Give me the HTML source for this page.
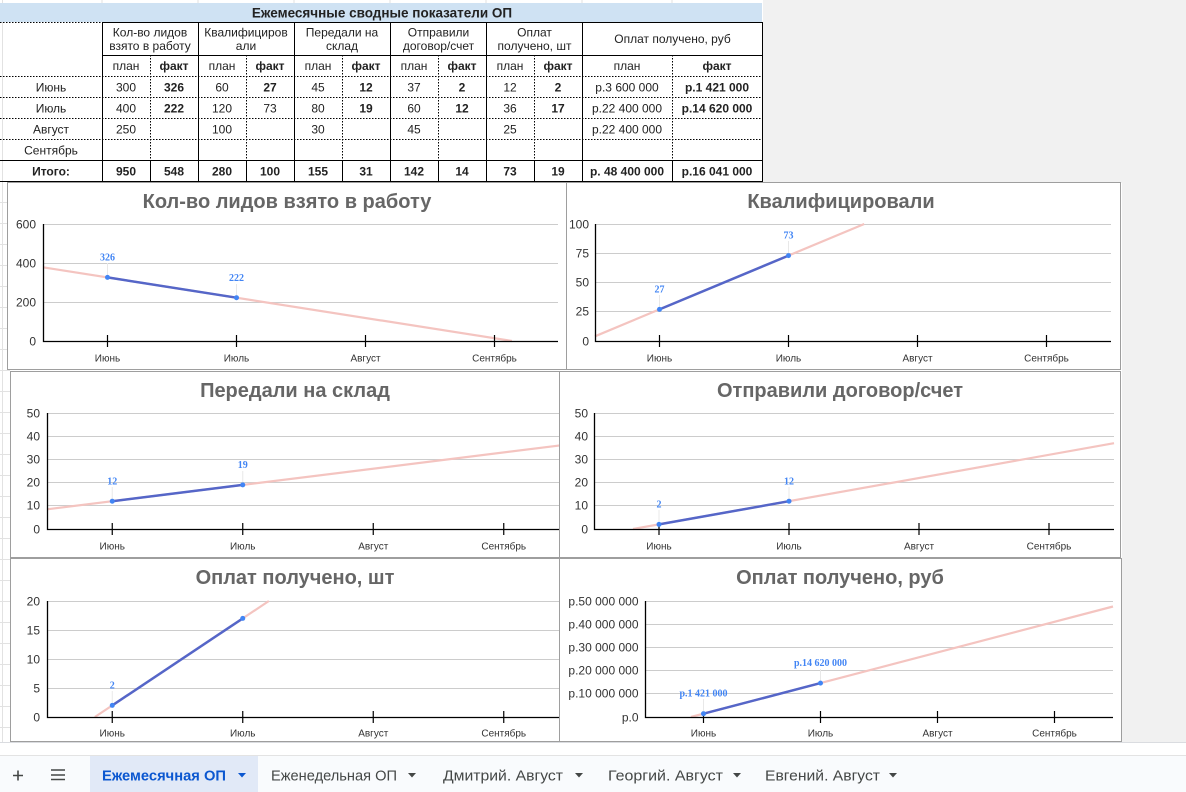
<!DOCTYPE html>
<html>
<head>
<meta charset="utf-8">
<style>
  html,body{margin:0;padding:0;background:#fff;}
  body{width:1186px;height:792px;overflow:hidden;}
  svg{display:block;}
  text{font-family:"Liberation Sans",sans-serif;}
  .t{font-size:12px;fill:#222;}
  .b{font-weight:bold;}
  .ttl{font-size:20px;font-weight:bold;fill:#666;}
  .yl{font-size:12px;fill:#333;text-anchor:end;}
  .xl{font-size:10px;fill:#333;text-anchor:middle;}
  .dl{font-family:"Liberation Serif",serif;font-size:10px;font-weight:bold;fill:#4285f4;text-anchor:middle;}
  .grid{stroke:#cccccc;stroke-width:1;}
  .ax{stroke:#000;stroke-width:1.3;fill:none;}
  .tk{stroke:#000;stroke-width:1.2;}
  .tr{stroke:#f4c4c0;stroke-width:2.2;fill:none;}
  .sr{stroke:#5566c8;stroke-width:2.5;fill:none;}
  .ld{stroke:#e8e8e8;stroke-width:1;}
  .pt{fill:#4285f4;}
  .box{fill:#fff;stroke:#9e9e9e;stroke-width:1;}
  .sol{stroke:#000;stroke-width:1;}
  .dot{stroke:#000;stroke-width:1;stroke-dasharray:1.5 1.5;}
  .tab{font-size:14.5px;fill:#444746;}
</style>
</head>
<body>
<svg width="1186" height="792" viewBox="0 0 1186 792" xmlns="http://www.w3.org/2000/svg">
  <defs>
    <clipPath id="c1"><rect x="7" y="182" width="560" height="188"/></clipPath>
    <clipPath id="c2"><rect x="566" y="182" width="555" height="188"/></clipPath>
    <clipPath id="c3"><rect x="10" y="371" width="570" height="187"/></clipPath>
    <clipPath id="c4"><rect x="559" y="371" width="562" height="187"/></clipPath>
    <clipPath id="c5"><rect x="10" y="558" width="570" height="184"/></clipPath>
    <clipPath id="c6"><rect x="559" y="558" width="563" height="184"/></clipPath>
  </defs>

  <rect x="0" y="0" width="1186" height="792" fill="#fff"/>
  <rect x="763" y="0" width="423" height="183" fill="#f1f1f1"/>
  <rect x="1122" y="183" width="64" height="559" fill="#f1f1f1"/>
  <g stroke="#e2e2e2" stroke-width="1">
    <line x1="2.5" y1="0" x2="2.5" y2="742"/>
    <line x1="0" y1="202.5" x2="10" y2="202.5"/>
    <line x1="0" y1="223.5" x2="10" y2="223.5"/>
    <line x1="0" y1="244.5" x2="10" y2="244.5"/>
    <line x1="0" y1="265.5" x2="10" y2="265.5"/>
    <line x1="0" y1="286.5" x2="10" y2="286.5"/>
    <line x1="0" y1="307.5" x2="10" y2="307.5"/>
    <line x1="0" y1="328.5" x2="10" y2="328.5"/>
    <line x1="0" y1="349.5" x2="10" y2="349.5"/>
    <line x1="0" y1="370.5" x2="10" y2="370.5"/>
    <line x1="0" y1="391.5" x2="10" y2="391.5"/>
    <line x1="0" y1="412.5" x2="10" y2="412.5"/>
    <line x1="0" y1="433.5" x2="10" y2="433.5"/>
    <line x1="0" y1="454.5" x2="10" y2="454.5"/>
    <line x1="0" y1="475.5" x2="10" y2="475.5"/>
    <line x1="0" y1="496.5" x2="10" y2="496.5"/>
    <line x1="0" y1="517.5" x2="10" y2="517.5"/>
    <line x1="0" y1="538.5" x2="10" y2="538.5"/>
    <line x1="0" y1="559.5" x2="10" y2="559.5"/>
    <line x1="0" y1="580.5" x2="10" y2="580.5"/>
    <line x1="0" y1="601.5" x2="10" y2="601.5"/>
    <line x1="0" y1="622.5" x2="10" y2="622.5"/>
    <line x1="0" y1="643.5" x2="10" y2="643.5"/>
    <line x1="0" y1="664.5" x2="10" y2="664.5"/>
    <line x1="0" y1="685.5" x2="10" y2="685.5"/>
    <line x1="0" y1="706.5" x2="10" y2="706.5"/>
    <line x1="0" y1="727.5" x2="10" y2="727.5"/>
    <line x1="102" y1="0" x2="102" y2="3"/>
    <line x1="198" y1="0" x2="198" y2="3"/>
    <line x1="294" y1="0" x2="294" y2="3"/>
    <line x1="390" y1="0" x2="390" y2="3"/>
    <line x1="486" y1="0" x2="486" y2="3"/>
    <line x1="582" y1="0" x2="582" y2="3"/>
    <line x1="672" y1="0" x2="672" y2="3"/>
  </g>

  <!-- TABLE -->
  <rect x="0" y="3" width="762" height="19" fill="#cfe2f3"/>
  <text x="382" y="17.5" text-anchor="middle" style="font-size:13.5px;font-weight:bold;fill:#222;">Ежемесячные сводные показатели ОП</text>

  <line class="dot" x1="0" y1="22.5" x2="102" y2="22.5"/>
  <line class="sol" x1="102" y1="22.5" x2="763" y2="22.5"/>
  <line class="sol" x1="102" y1="55.5" x2="763" y2="55.5"/>
  <line class="dot" x1="0" y1="76.5" x2="763" y2="76.5"/>
  <line class="dot" x1="0" y1="97.5" x2="763" y2="97.5"/>
  <line class="dot" x1="0" y1="118.5" x2="763" y2="118.5"/>
  <line class="dot" x1="0" y1="139.5" x2="763" y2="139.5"/>
  <line class="sol" x1="0" y1="160.5" x2="763" y2="160.5"/>
  <line class="sol" x1="0" y1="181.5" x2="763" y2="181.5"/>
  <line class="sol" x1="102.5" y1="22" x2="102.5" y2="182"/>
  <line class="sol" x1="198.5" y1="22" x2="198.5" y2="182"/>
  <line class="sol" x1="294.5" y1="22" x2="294.5" y2="182"/>
  <line class="sol" x1="390.5" y1="22" x2="390.5" y2="182"/>
  <line class="sol" x1="486.5" y1="22" x2="486.5" y2="182"/>
  <line class="sol" x1="582.5" y1="22" x2="582.5" y2="182"/>
  <line class="sol" x1="762.5" y1="22" x2="762.5" y2="182"/>
  <g>
    <line class="dot" x1="150.5" y1="55" x2="150.5" y2="160"/>
    <line class="dot" x1="246.5" y1="55" x2="246.5" y2="160"/>
    <line class="dot" x1="342.5" y1="55" x2="342.5" y2="160"/>
    <line class="dot" x1="438.5" y1="55" x2="438.5" y2="160"/>
    <line class="dot" x1="534.5" y1="55" x2="534.5" y2="160"/>
    <line class="dot" x1="672.5" y1="55" x2="672.5" y2="160"/>
    <line class="sol" x1="150.5" y1="160" x2="150.5" y2="182"/>
    <line class="sol" x1="246.5" y1="160" x2="246.5" y2="182"/>
    <line class="sol" x1="342.5" y1="160" x2="342.5" y2="182"/>
    <line class="sol" x1="438.5" y1="160" x2="438.5" y2="182"/>
    <line class="sol" x1="534.5" y1="160" x2="534.5" y2="182"/>
    <line class="sol" x1="672.5" y1="160" x2="672.5" y2="182"/>
  </g>

  <g>
    <text class="t" x="150" y="36.5" text-anchor="middle">Кол-во лидов</text>
    <text class="t" x="150" y="50" text-anchor="middle">взято в работу</text>
    <text class="t" x="246" y="36.5" text-anchor="middle">Квалифициров</text>
    <text class="t" x="246" y="50" text-anchor="middle">али</text>
    <text class="t" x="342" y="36.5" text-anchor="middle">Передали на</text>
    <text class="t" x="342" y="50" text-anchor="middle">склад</text>
    <text class="t" x="438.5" y="36.5" text-anchor="middle">Отправили</text>
    <text class="t" x="438.5" y="50" text-anchor="middle">договор/счет</text>
    <text class="t" x="534.5" y="36.5" text-anchor="middle">Оплат</text>
    <text class="t" x="534.5" y="50" text-anchor="middle">получено, шт</text>
    <text class="t" x="672.5" y="43" text-anchor="middle">Оплат получено, руб</text>
  </g>
  <g>
    <text class="t" x="126" y="70" text-anchor="middle">план</text>
    <text class="t b" x="174" y="70" text-anchor="middle">факт</text>
    <text class="t" x="222" y="70" text-anchor="middle">план</text>
    <text class="t b" x="270" y="70" text-anchor="middle">факт</text>
    <text class="t" x="318" y="70" text-anchor="middle">план</text>
    <text class="t b" x="366" y="70" text-anchor="middle">факт</text>
    <text class="t" x="414" y="70" text-anchor="middle">план</text>
    <text class="t b" x="462" y="70" text-anchor="middle">факт</text>
    <text class="t" x="510" y="70" text-anchor="middle">план</text>
    <text class="t b" x="558" y="70" text-anchor="middle">факт</text>
    <text class="t" x="627" y="70" text-anchor="middle">план</text>
    <text class="t b" x="717" y="70" text-anchor="middle">факт</text>
  </g>
  <g>
    <text class="t" x="51" y="91.5" text-anchor="middle">Июнь</text>
    <text class="t" x="126" y="91.5" text-anchor="middle">300</text>
    <text class="t b" x="174" y="91.5" text-anchor="middle">326</text>
    <text class="t" x="222" y="91.5" text-anchor="middle">60</text>
    <text class="t b" x="270" y="91.5" text-anchor="middle">27</text>
    <text class="t" x="318" y="91.5" text-anchor="middle">45</text>
    <text class="t b" x="366" y="91.5" text-anchor="middle">12</text>
    <text class="t" x="414" y="91.5" text-anchor="middle">37</text>
    <text class="t b" x="462" y="91.5" text-anchor="middle">2</text>
    <text class="t" x="510" y="91.5" text-anchor="middle">12</text>
    <text class="t b" x="558" y="91.5" text-anchor="middle">2</text>
    <text class="t" x="627" y="91.5" text-anchor="middle">р.3 600 000</text>
    <text class="t b" x="717" y="91.5" text-anchor="middle">р.1 421 000</text>

    <text class="t" x="51" y="112.5" text-anchor="middle">Июль</text>
    <text class="t" x="126" y="112.5" text-anchor="middle">400</text>
    <text class="t b" x="174" y="112.5" text-anchor="middle">222</text>
    <text class="t" x="222" y="112.5" text-anchor="middle">120</text>
    <text class="t" x="270" y="112.5" text-anchor="middle">73</text>
    <text class="t" x="318" y="112.5" text-anchor="middle">80</text>
    <text class="t b" x="366" y="112.5" text-anchor="middle">19</text>
    <text class="t" x="414" y="112.5" text-anchor="middle">60</text>
    <text class="t b" x="462" y="112.5" text-anchor="middle">12</text>
    <text class="t" x="510" y="112.5" text-anchor="middle">36</text>
    <text class="t b" x="558" y="112.5" text-anchor="middle">17</text>
    <text class="t" x="627" y="112.5" text-anchor="middle">р.22 400 000</text>
    <text class="t b" x="717" y="112.5" text-anchor="middle">р.14 620 000</text>

    <text class="t" x="51" y="133.5" text-anchor="middle">Август</text>
    <text class="t" x="126" y="133.5" text-anchor="middle">250</text>
    <text class="t" x="222" y="133.5" text-anchor="middle">100</text>
    <text class="t" x="318" y="133.5" text-anchor="middle">30</text>
    <text class="t" x="414" y="133.5" text-anchor="middle">45</text>
    <text class="t" x="510" y="133.5" text-anchor="middle">25</text>
    <text class="t" x="627" y="133.5" text-anchor="middle">р.22 400 000</text>

    <text class="t" x="51" y="154.5" text-anchor="middle">Сентябрь</text>

    <text class="t b" x="51" y="175.5" text-anchor="middle">Итого:</text>
    <text class="t b" x="126" y="175.5" text-anchor="middle">950</text>
    <text class="t b" x="174" y="175.5" text-anchor="middle">548</text>
    <text class="t b" x="222" y="175.5" text-anchor="middle">280</text>
    <text class="t b" x="270" y="175.5" text-anchor="middle">100</text>
    <text class="t b" x="318" y="175.5" text-anchor="middle">155</text>
    <text class="t b" x="366" y="175.5" text-anchor="middle">31</text>
    <text class="t b" x="414" y="175.5" text-anchor="middle">142</text>
    <text class="t b" x="462" y="175.5" text-anchor="middle">14</text>
    <text class="t b" x="510" y="175.5" text-anchor="middle">73</text>
    <text class="t b" x="558" y="175.5" text-anchor="middle">19</text>
    <text class="t b" x="627" y="175.5" text-anchor="middle">р. 48 400 000</text>
    <text class="t b" x="717" y="175.5" text-anchor="middle">р.16 041 000</text>
  </g>

  <!-- CHART 1 -->
  <g clip-path="url(#c1)">
    <rect class="box" x="7.5" y="182.5" width="559" height="187"/>
    <text class="ttl" x="287" y="208" text-anchor="middle">Кол-во лидов взято в работу</text>
    <line class="grid" x1="43" y1="224.5" x2="558" y2="224.5"/>
    <line class="grid" x1="43" y1="263.5" x2="558" y2="263.5"/>
    <line class="grid" x1="43" y1="302.5" x2="558" y2="302.5"/>
    <text class="yl" x="36" y="228.5">600</text>
    <text class="yl" x="36" y="267.5">400</text>
    <text class="yl" x="36" y="306.5">200</text>
    <text class="yl" x="36" y="345.5">0</text>
    <path class="tr" d="M43 267.3 L511.9 341"/>
    <path class="ax" d="M43.5 224 V341.5 H558"/>
    <path class="tk" d="M107.5 335V347 M236.5 335V347 M365.5 335V347 M494.5 335V347"/>
    <text class="xl" x="107.5" y="361.5">Июнь</text>
    <text class="xl" x="236.5" y="361.5">Июль</text>
    <text class="xl" x="365.5" y="361.5">Август</text>
    <text class="xl" x="494.5" y="361.5">Сентябрь</text>
    <path class="ld" d="M107.5 276V263 M236.5 296V284"/>
    <path class="sr" d="M107.5 277.4 L236.5 297.7"/>
    <circle class="pt" cx="107.5" cy="277.4" r="2.5"/>
    <circle class="pt" cx="236.5" cy="297.7" r="2.5"/>
    <text class="dl" x="107.5" y="260.5">326</text>
    <text class="dl" x="236.5" y="281">222</text>
  </g>

  <!-- CHART 3 -->
  <g clip-path="url(#c3)">
    <rect class="box" x="10.5" y="371.5" width="569" height="186"/>
    <text class="ttl" x="295" y="397" text-anchor="middle">Передали на склад</text>
    <line class="grid" x1="47" y1="413.5" x2="569" y2="413.5"/>
    <line class="grid" x1="47" y1="436.5" x2="569" y2="436.5"/>
    <line class="grid" x1="47" y1="459.5" x2="569" y2="459.5"/>
    <line class="grid" x1="47" y1="482.5" x2="569" y2="482.5"/>
    <line class="grid" x1="47" y1="505.5" x2="569" y2="505.5"/>
    <text class="yl" x="40" y="417.5">50</text>
    <text class="yl" x="40" y="440.5">40</text>
    <text class="yl" x="40" y="463.5">30</text>
    <text class="yl" x="40" y="486.5">20</text>
    <text class="yl" x="40" y="509.5">10</text>
    <text class="yl" x="40" y="533.5">0</text>
    <path class="tr" d="M47 509.3 L569 444.3"/>
    <path class="ax" d="M47.5 413 V529.5 H569"/>
    <path class="tk" d="M112.25 523V535 M242.75 523V535 M373.25 523V535 M503.75 523V535"/>
    <text class="xl" x="112.25" y="549.5">Июнь</text>
    <text class="xl" x="242.75" y="549.5">Июль</text>
    <text class="xl" x="373.25" y="549.5">Август</text>
    <text class="xl" x="503.75" y="549.5">Сентябрь</text>
    <path class="ld" d="M112.25 500V487 M242.75 484V471"/>
    <path class="sr" d="M112.25 501.2 L242.75 484.9"/>
    <circle class="pt" cx="112.25" cy="501.2" r="2.5"/>
    <circle class="pt" cx="242.75" cy="484.9" r="2.5"/>
    <text class="dl" x="112.25" y="484.5">12</text>
    <text class="dl" x="242.75" y="468">19</text>
  </g>

  <!-- CHART 5 -->
  <g clip-path="url(#c5)">
    <rect class="box" x="10.5" y="558.5" width="569" height="183"/>
    <text class="ttl" x="295" y="584" text-anchor="middle">Оплат получено, шт</text>
    <line class="grid" x1="47" y1="601.5" x2="569" y2="601.5"/>
    <line class="grid" x1="47" y1="630.5" x2="569" y2="630.5"/>
    <line class="grid" x1="47" y1="659.5" x2="569" y2="659.5"/>
    <line class="grid" x1="47" y1="688.5" x2="569" y2="688.5"/>
    <text class="yl" x="40" y="605.5">20</text>
    <text class="yl" x="40" y="634.5">15</text>
    <text class="yl" x="40" y="663.5">10</text>
    <text class="yl" x="40" y="692.5">5</text>
    <text class="yl" x="40" y="721.5">0</text>
    <path class="tr" d="M94.85 717 L268.85 601"/>
    <path class="ax" d="M47.5 601 V717.5 H569"/>
    <path class="tk" d="M112.25 711V723 M242.75 711V723 M373.25 711V723 M503.75 711V723"/>
    <text class="xl" x="112.25" y="736.5">Июнь</text>
    <text class="xl" x="242.75" y="736.5">Июль</text>
    <text class="xl" x="373.25" y="736.5">Август</text>
    <text class="xl" x="503.75" y="736.5">Сентябрь</text>
    <path class="ld" d="M112.25 704V691"/>
    <path class="sr" d="M112.25 705.4 L242.75 618.4"/>
    <circle class="pt" cx="112.25" cy="705.4" r="2.5"/>
    <circle class="pt" cx="242.75" cy="618.4" r="2.5"/>
    <text class="dl" x="112.25" y="688.5">2</text>
  </g>

  <!-- CHART 2 -->
  <g clip-path="url(#c2)">
    <rect class="box" x="566.5" y="182.5" width="554" height="187"/>
    <text class="ttl" x="841" y="208" text-anchor="middle">Квалифицировали</text>
    <line class="grid" x1="595" y1="224.5" x2="1111" y2="224.5"/>
    <line class="grid" x1="595" y1="253.5" x2="1111" y2="253.5"/>
    <line class="grid" x1="595" y1="282.5" x2="1111" y2="282.5"/>
    <line class="grid" x1="595" y1="311.5" x2="1111" y2="311.5"/>
    <text class="yl" x="589" y="228.5">100</text>
    <text class="yl" x="589" y="257.5">75</text>
    <text class="yl" x="589" y="286.5">50</text>
    <text class="yl" x="589" y="315.5">25</text>
    <text class="yl" x="589" y="345.5">0</text>
    <path class="tr" d="M595 336.3 L864.2 224"/>
    <path class="ax" d="M595.5 224 V341.5 H1111"/>
    <path class="tk" d="M659.5 335V347 M788.5 335V347 M917.5 335V347 M1046.5 335V347"/>
    <text class="xl" x="659.5" y="361.5">Июнь</text>
    <text class="xl" x="788.5" y="361.5">Июль</text>
    <text class="xl" x="917.5" y="361.5">Август</text>
    <text class="xl" x="1046.5" y="361.5">Сентябрь</text>
    <path class="ld" d="M659.5 308V295 M788.5 254V241"/>
    <path class="sr" d="M659.5 309.4 L788.5 255.6"/>
    <circle class="pt" cx="659.5" cy="309.4" r="2.5"/>
    <circle class="pt" cx="788.5" cy="255.6" r="2.5"/>
    <text class="dl" x="659.5" y="292.5">27</text>
    <text class="dl" x="788.5" y="238.7">73</text>
  </g>

  <!-- CHART 4 -->
  <g clip-path="url(#c4)">
    <rect class="box" x="559.5" y="371.5" width="561" height="186"/>
    <text class="ttl" x="840" y="397" text-anchor="middle">Отправили договор/счет</text>
    <line class="grid" x1="594" y1="413.5" x2="1114" y2="413.5"/>
    <line class="grid" x1="594" y1="436.5" x2="1114" y2="436.5"/>
    <line class="grid" x1="594" y1="459.5" x2="1114" y2="459.5"/>
    <line class="grid" x1="594" y1="482.5" x2="1114" y2="482.5"/>
    <line class="grid" x1="594" y1="505.5" x2="1114" y2="505.5"/>
    <text class="yl" x="588" y="417.5">50</text>
    <text class="yl" x="588" y="440.5">40</text>
    <text class="yl" x="588" y="463.5">30</text>
    <text class="yl" x="588" y="486.5">20</text>
    <text class="yl" x="588" y="509.5">10</text>
    <text class="yl" x="588" y="533.5">0</text>
    <path class="tr" d="M633 529 L1114 443.2"/>
    <path class="ax" d="M594.5 413 V529.5 H1114"/>
    <path class="tk" d="M659 523V535 M789 523V535 M919 523V535 M1049 523V535"/>
    <text class="xl" x="659" y="549.5">Июнь</text>
    <text class="xl" x="789" y="549.5">Июль</text>
    <text class="xl" x="919" y="549.5">Август</text>
    <text class="xl" x="1049" y="549.5">Сентябрь</text>
    <path class="ld" d="M659 523V510 M789 500V487"/>
    <path class="sr" d="M659 524.4 L789 501.2"/>
    <circle class="pt" cx="659" cy="524.4" r="2.5"/>
    <circle class="pt" cx="789" cy="501.2" r="2.5"/>
    <text class="dl" x="659" y="507.5">2</text>
    <text class="dl" x="789" y="484.5">12</text>
  </g>

  <!-- CHART 6 -->
  <g clip-path="url(#c6)">
    <rect class="box" x="559.5" y="558.5" width="562" height="183"/>
    <text class="ttl" x="840" y="584" text-anchor="middle">Оплат получено, руб</text>
    <line class="grid" x1="645" y1="601.5" x2="1113" y2="601.5"/>
    <line class="grid" x1="645" y1="624.5" x2="1113" y2="624.5"/>
    <line class="grid" x1="645" y1="647.5" x2="1113" y2="647.5"/>
    <line class="grid" x1="645" y1="670.5" x2="1113" y2="670.5"/>
    <line class="grid" x1="645" y1="693.5" x2="1113" y2="693.5"/>
    <text class="yl" x="638.5" y="605.5">р.50 000 000</text>
    <text class="yl" x="638.5" y="628.5">р.40 000 000</text>
    <text class="yl" x="638.5" y="651.5">р.30 000 000</text>
    <text class="yl" x="638.5" y="674.5">р.20 000 000</text>
    <text class="yl" x="638.5" y="697.5">р.10 000 000</text>
    <text class="yl" x="638.5" y="721.5">р.0</text>
    <path class="tr" d="M690.9 717 L1113 606.5"/>
    <path class="ax" d="M645.5 601 V717.5 H1113"/>
    <path class="tk" d="M703.5 711V723 M820.5 711V723 M937.5 711V723 M1054.5 711V723"/>
    <text class="xl" x="703.5" y="736.5">Июнь</text>
    <text class="xl" x="820.5" y="736.5">Июль</text>
    <text class="xl" x="937.5" y="736.5">Август</text>
    <text class="xl" x="1054.5" y="736.5">Сентябрь</text>
    <path class="ld" d="M703.5 712V699 M820.5 682V669"/>
    <path class="sr" d="M703.5 713.7 L820.5 683.1"/>
    <circle class="pt" cx="703.5" cy="713.7" r="2.5"/>
    <circle class="pt" cx="820.5" cy="683.1" r="2.5"/>
    <text class="dl" x="703.5" y="696.5">р.1 421 000</text>
    <text class="dl" x="820.5" y="666">р.14 620 000</text>
  </g>

  <!-- BOTTOM BAR -->
  <rect x="0" y="742" width="1186" height="13" fill="#fff"/>
  <line x1="0" y1="742.5" x2="1186" y2="742.5" stroke="#dadce0"/>
  <rect x="0" y="755" width="1186" height="37" fill="#f9fbfd"/>
  <line x1="0" y1="755.5" x2="1186" y2="755.5" stroke="#e3e3e3"/>
  <rect x="90" y="756" width="168" height="36" fill="#e1e9f7"/>
  <path d="M13 775.5H23 M18 770.5V780.5" stroke="#444746" stroke-width="1.6"/>
  <path d="M51 770H65 M51 775H65 M51 779.5H65" stroke="#444746" stroke-width="1.5"/>
  <text x="102" y="780.5" textLength="124" lengthAdjust="spacingAndGlyphs" style="font-size:14.5px;font-weight:bold;fill:#0b57d0;">Ежемесячная ОП</text>
  <polygon points="238,773 246,773 242,777.5" fill="#0b57d0"/>
  <text class="tab" x="271" y="780.5" textLength="126" lengthAdjust="spacingAndGlyphs">Еженедельная ОП</text>
  <polygon points="408,773 416,773 412,777.5" fill="#444746"/>
  <text class="tab" x="443" y="780.5" textLength="120" lengthAdjust="spacingAndGlyphs">Дмитрий. Август</text>
  <polygon points="575,773 583,773 579,777.5" fill="#444746"/>
  <text class="tab" x="608" y="780.5" textLength="115" lengthAdjust="spacingAndGlyphs">Георгий. Август</text>
  <polygon points="733,773 741,773 737,777.5" fill="#444746"/>
  <text class="tab" x="765" y="780.5" textLength="115" lengthAdjust="spacingAndGlyphs">Евгений. Август</text>
  <polygon points="889,773 897,773 893,777.5" fill="#444746"/>
</svg>
</body>
</html>
